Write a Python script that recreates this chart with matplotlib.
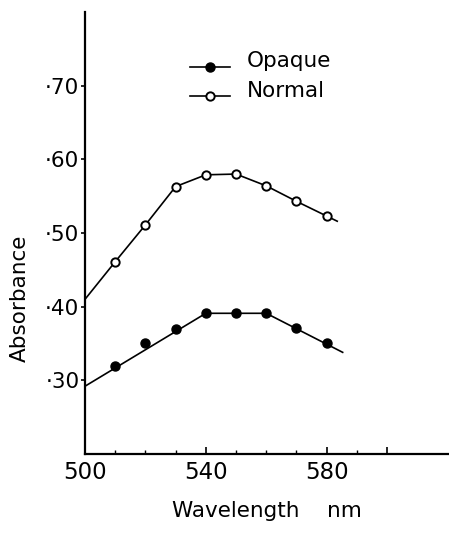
import matplotlib
matplotlib.use("Agg")
import matplotlib.pyplot as plt

# readings from the figure (absorbance vs wavelength)
wl = [510, 520, 530, 540, 550, 560, 570, 580]
opaque = [0.32, 0.35, 0.37, 0.392, 0.391, 0.392, 0.371, 0.351]
normal = [0.461, 0.511, 0.563, 0.579, 0.580, 0.564, 0.543, 0.523]

# hand-drawn fitted lines
opaque_line_x = [500, 540, 560, 585.3]
opaque_line_y = [0.292, 0.391, 0.391, 0.338]
normal_line_x = [500, 510, 520, 530, 540, 550, 560, 570, 580, 583.5]
normal_line_y = [0.41, 0.461, 0.511, 0.563, 0.579, 0.580, 0.564, 0.543, 0.523, 0.516]

yticks = [0.30, 0.40, 0.50, 0.60, 0.70]
ytick_labels = ["\u00b730", "\u00b740", "\u00b750", "\u00b760", "\u00b770"]
xticks = [500, 540, 580]

plt.rcParams['font.family'] = ['DejaVu Sans']

fig = plt.figure(figsize=(4.49, 5.33), dpi=100)
ax = fig.add_axes([85 / 449, 79 / 533, 364 / 449, 442 / 533])

ax.plot(opaque_line_x, opaque_line_y, color='black', lw=1.2)
ax.plot(normal_line_x, normal_line_y, color='black', lw=1.2)
ax.plot(wl, opaque, 'o', color='black', ms=6.5, zorder=3)
ax.plot(wl, normal, 'o', mfc='white', mec='black', mew=1.4, ms=6, zorder=3)

ax.set_xlim(500, 620.5)
ax.set_ylim(0.20, 0.80)

for s in ['top', 'right']:
    ax.spines[s].set_visible(False)
for s in ['left', 'bottom']:
    ax.spines[s].set_linewidth(1.6)

ax.set_yticks(yticks)
ax.set_yticklabels(ytick_labels, fontsize=15.5)
ax.tick_params(axis='y', direction='out', length=3, width=1.2, pad=1)

ax.set_xticks(xticks + [600])
ax.set_xticklabels([str(v) for v in xticks] + [""], fontsize=16.5)
ax.set_xticks([510, 520, 530, 550, 560, 570, 590], minor=True)
ax.tick_params(axis='x', which='major', direction='in', length=5, width=1.2, pad=5)
ax.tick_params(axis='x', which='minor', direction='in', length=3, width=1.0)

ax.set_xlabel("Wavelength    nm", fontsize=15.5, labelpad=12)
ax.set_ylabel("Absorbance", fontsize=15.5)
ax.yaxis.set_label_coords(-0.151, 0.353)

# legend drawn by hand at the top
ax.plot([534.8, 548], [0.726, 0.726], color='black', lw=1.2)
ax.plot([541.4], [0.726], 'o', color='black', ms=6.5)
ax.plot([534.8, 548], [0.686, 0.686], color='black', lw=1.2)
ax.plot([541.4], [0.686], 'o', mfc='white', mec='black', mew=1.4, ms=6)
ax.text(553.5, 0.734, "Opaque", fontsize=15.5, va='center')
ax.text(553.5, 0.693, "Normal", fontsize=15.5, va='center')

fig.savefig("out.png", dpi=100)
